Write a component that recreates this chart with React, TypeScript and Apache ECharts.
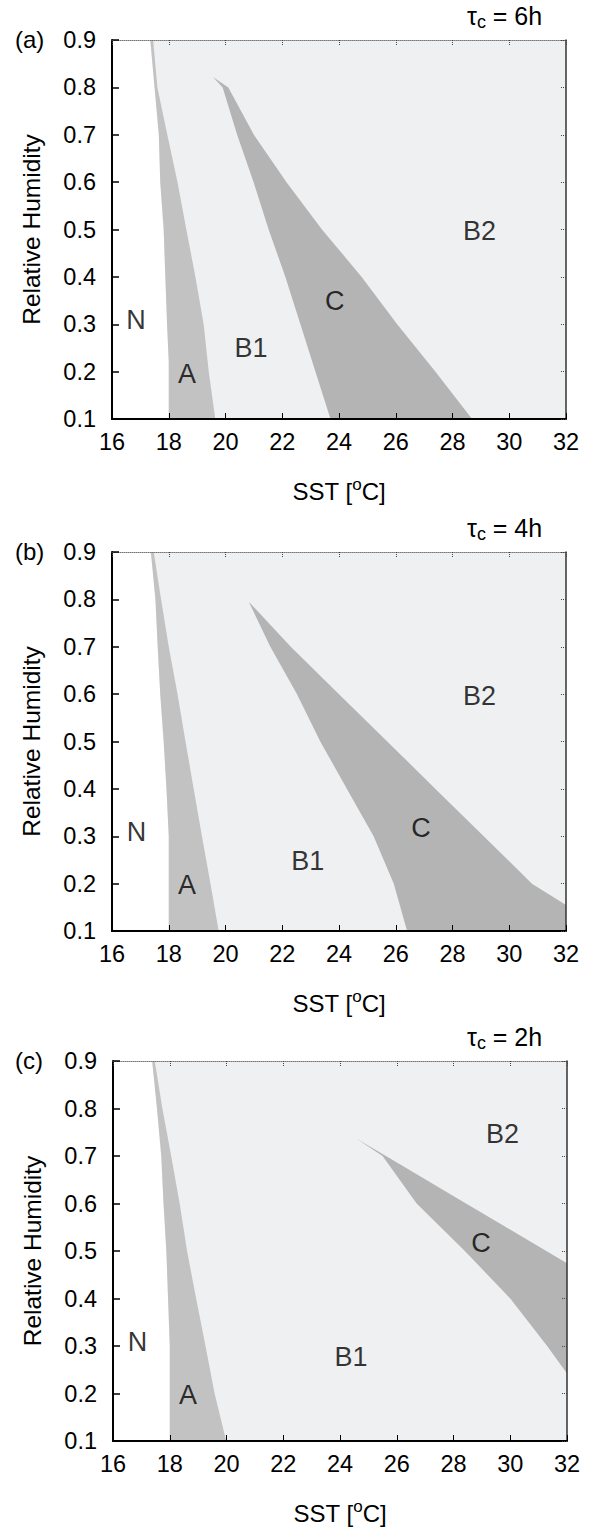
import React, { useEffect, useRef } from "react";
import * as echarts from "echarts";

const SST_MIN = 16;
const SST_MAX = 32;
const RH_MIN = 0.1;
const RH_MAX = 0.9;
const panelLetters = ["(a)", "(b)", "(c)"];
const tauValues = ["6h", "4h", "2h"];
const regionNames = ["B", "A", "C"];

// Panel (a), tau_c = 6h : boundaries [SST, RH]
const naEdgeA = [[17.35, 0.9], [17.5, 0.8], [17.65, 0.7], [17.7, 0.6], [17.82, 0.5], [17.88, 0.4], [17.94, 0.3], [18.0, 0.22], [18.0, 0.1]];
const abEdgeA = [[17.45, 0.9], [17.6, 0.8], [17.95, 0.7], [18.31, 0.6], [18.62, 0.5], [18.94, 0.4], [19.23, 0.3], [19.41, 0.2], [19.64, 0.1]];
const cUpperA = [[19.56, 0.822], [20.1, 0.8], [21.0, 0.7], [22.15, 0.6], [23.4, 0.5], [24.8, 0.4], [26.05, 0.3], [27.4, 0.2], [28.69, 0.1]];
const cLowerA = [[19.56, 0.822], [19.9, 0.8], [20.41, 0.7], [20.99, 0.6], [21.52, 0.5], [22.11, 0.4], [22.64, 0.3], [23.17, 0.2], [23.7, 0.1]];
const labelsA = [[16.85, 0.309, "N"], [18.64, 0.195, "A"], [20.9, 0.249, "B1"], [23.85, 0.349, "C"], [28.95, 0.496, "B2"]];

// Panel (b), tau_c = 4h
const naEdgeB = [[17.37, 0.9], [17.53, 0.8], [17.61, 0.7], [17.7, 0.6], [17.82, 0.5], [17.92, 0.4], [18.0, 0.3], [18.0, 0.1]];
const abEdgeB = [[17.47, 0.9], [17.73, 0.8], [18.0, 0.7], [18.31, 0.6], [18.59, 0.5], [18.88, 0.4], [19.17, 0.3], [19.47, 0.2], [19.76, 0.1]];
const cUpperB = [[20.82, 0.795], [22.3, 0.7], [24.0, 0.6], [25.7, 0.5], [27.4, 0.4], [29.1, 0.3], [30.8, 0.2], [32.0, 0.155], [32.0, 0.1]];
const cLowerB = [[20.82, 0.795], [21.58, 0.7], [22.52, 0.6], [23.34, 0.5], [24.28, 0.4], [25.22, 0.3], [25.93, 0.2], [26.4, 0.1]];
const labelsB = [[16.86, 0.31, "N"], [18.64, 0.198, "A"], [22.9, 0.247, "B1"], [26.89, 0.317, "C"], [28.95, 0.595, "B2"]];

// Panel (c), tau_c = 2h
const naEdgeC = [[17.38, 0.9], [17.55, 0.8], [17.7, 0.7], [17.78, 0.6], [17.88, 0.5], [17.94, 0.4], [18.0, 0.3], [18.0, 0.1]];
const abEdgeC = [[17.47, 0.9], [17.74, 0.8], [18.05, 0.7], [18.35, 0.6], [18.61, 0.5], [18.93, 0.4], [19.26, 0.3], [19.58, 0.2], [19.99, 0.1]];
const cUpperC = [[24.57, 0.737], [25.62, 0.7], [28.44, 0.6], [31.27, 0.5], [32.0, 0.474]];
const cLowerC = [[24.57, 0.737], [25.5, 0.7], [26.7, 0.6], [28.4, 0.5], [30.0, 0.4], [31.3, 0.3], [32.0, 0.242]];
const labelsC = [[16.86, 0.309, "N"], [18.64, 0.197, "A"], [24.39, 0.277, "B1"], [28.97, 0.517, "C"], [29.73, 0.747, "B2"]];

const FONT = "Liberation Sans, Arial, Helvetica, sans-serif";
const COLORS = { B: "#eff0f2", A: "#c2c2c2", C: "#b4b4b4" };

const panels = [
  { na: naEdgeA, ab: abEdgeA, cu: cUpperA, cl: cLowerA, labels: labelsA },
  { na: naEdgeB, ab: abEdgeB, cu: cUpperB, cl: cLowerB, labels: labelsB },
  { na: naEdgeC, ab: abEdgeC, cu: cUpperC, cl: cLowerC, labels: labelsC },
];

const grids = [
  { left: 112, top: 40, width: 454, height: 379 },
  { left: 112, top: 552, width: 454, height: 379 },
  { left: 113, top: 1061, width: 454, height: 380 },
];

function buildOption() {
  const xAxis: any[] = [];
  const yAxis: any[] = [];
  const series: any[] = [];
  const graphic: any[] = [];

  panels.forEach((p, i) => {
    const polyB = [...p.na, [SST_MAX, RH_MIN], [SST_MAX, RH_MAX]];
    const polyA = [...p.na, ...[...p.ab].reverse()];
    const polyC = [...p.cu, ...[...p.cl].reverse()];
    const polys = [polyB, polyA, polyC];
    const fills = regionNames.map((n) => (COLORS as any)[n]);

    xAxis.push({
      gridIndex: i,
      type: "value",
      position: "bottom",
      min: SST_MIN,
      max: SST_MAX,
      interval: 2,
      z: 4,
      name: "{a|SST [}{b|o}{a|C]}",
      nameLocation: "middle",
      nameGap: 57,
      nameTextStyle: {
        fontFamily: FONT,
        color: "#000",
        rich: {
          a: { fontSize: 24, lineHeight: 30, fontFamily: FONT, color: "#000" },
          b: { fontSize: 17, lineHeight: 11, verticalAlign: "top", fontFamily: FONT, color: "#000" },
        },
      },
      axisLine: { onZero: false, lineStyle: { color: "#000", width: 2 } },
      axisTick: { inside: true, length: 6, lineStyle: { color: "#000", width: 1 } },
      axisLabel: { fontSize: 23.5, fontFamily: FONT, color: "#000", margin: 11 },
      splitLine: { show: false },
    });
    xAxis.push({
      gridIndex: i,
      type: "value",
      position: "top",
      min: SST_MIN,
      max: SST_MAX,
      interval: 2,
      z: 4,
      axisLine: { onZero: false, lineStyle: { color: "#777", width: 1, type: "dotted" } },
      axisTick: { inside: true, length: 5, lineStyle: { color: "#444", width: 1, type: "dotted" } },
      axisLabel: { show: false },
      splitLine: { show: false },
    });
    yAxis.push({
      gridIndex: i,
      type: "value",
      position: "left",
      min: RH_MIN,
      max: RH_MAX,
      interval: 0.1,
      z: 4,
      name: "Relative Humidity",
      nameLocation: "middle",
      nameGap: 68,
      nameTextStyle: { fontSize: 24.5, fontFamily: FONT, color: "#000" },
      axisLine: { onZero: false, lineStyle: { color: "#000", width: 2 } },
      axisTick: { inside: true, length: 7, lineStyle: { color: "#000", width: 1.5 } },
      axisLabel: {
        fontSize: 23.5,
        fontFamily: FONT,
        color: "#000",
        margin: 16,
        formatter: (v: number) => v.toFixed(1),
      },
      splitLine: { show: false },
    });
    yAxis.push({
      gridIndex: i,
      type: "value",
      position: "right",
      min: RH_MIN,
      max: RH_MAX,
      interval: 0.1,
      z: 4,
      axisLine: { onZero: false, lineStyle: { color: "#333", width: 1.5 } },
      axisTick: { inside: true, length: 6, lineStyle: { color: "#444", width: 1, type: "dotted" } },
      axisLabel: { show: false },
      splitLine: { show: false },
    });

    series.push({
      type: "custom",
      xAxisIndex: 2 * i,
      yAxisIndex: 2 * i,
      clip: true,
      silent: true,
      z: 2,
      data: polys.map((poly) => poly[0]),
      renderItem: (params: any, api: any) => {
        const poly = polys[params.dataIndex];
        return {
          type: "polygon",
          shape: { points: poly.map((pt: number[]) => api.coord(pt)) },
          style: { fill: fills[params.dataIndex], stroke: null },
        };
      },
    });

    series.push({
      type: "scatter",
      xAxisIndex: 2 * i,
      yAxisIndex: 2 * i,
      symbolSize: 1,
      silent: true,
      z: 6,
      itemStyle: { color: "rgba(0,0,0,0)" },
      data: p.labels,
      label: {
        show: true,
        position: "inside",
        formatter: (d: any) => d.value[2],
        fontSize: 27,
        fontFamily: FONT,
        color: "#000",
      },
    });

    const g = grids[i];
    graphic.push({
      type: "text",
      left: 15,
      top: g.top - 13,
      style: { text: panelLetters[i], fontSize: 24, fontFamily: FONT, fill: "#000" },
    });
    graphic.push({
      type: "text",
      left: 467,
      top: g.top - 37,
      style: {
        text: "{a|τ}{b|c}{a| = " + tauValues[i] + "}",
        fontFamily: FONT,
        fill: "#000",
        rich: {
          a: { fontSize: 25, lineHeight: 30, fontFamily: FONT, fill: "#000" },
          b: { fontSize: 18, lineHeight: 13, verticalAlign: "bottom", fontFamily: FONT, fill: "#000" },
        },
      },
    });
  });

  return {
    animation: false,
    backgroundColor: "#fff",
    grid: grids.map((g) => ({ ...g, show: false })),
    xAxis,
    yAxis,
    series,
    graphic,
  };
}

export default function App() {
  const ref = useRef<HTMLDivElement>(null);
  useEffect(() => {
    if (!ref.current) return;
    const chart = echarts.init(ref.current, undefined, { renderer: "svg" });
    chart.setOption(buildOption() as any);
    return () => chart.dispose();
  }, []);
  return (
    <div
      ref={ref}
      style={{ position: "absolute", left: 0, top: 0, width: 601, height: 1528 }}
    />
  );
}
